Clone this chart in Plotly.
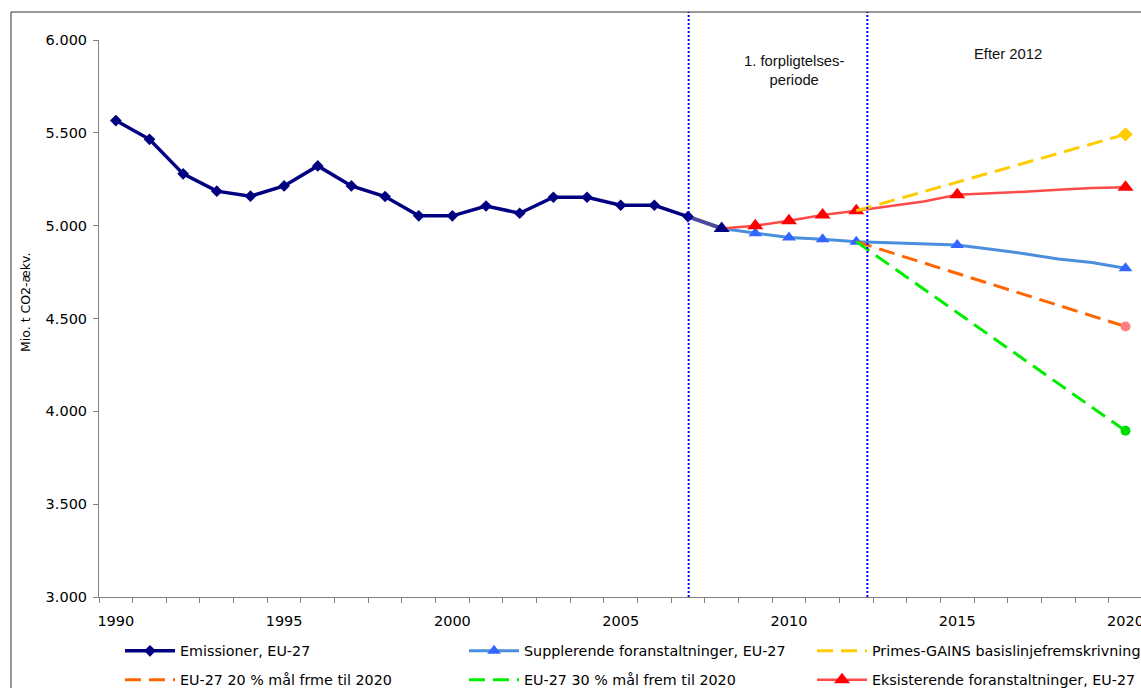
import plotly.graph_objects as go

# ---------------- data ----------------
emis_years = list(range(1990, 2008))
emis_vals = [5566, 5465, 5279, 5186, 5159, 5214, 5322, 5214, 5157, 5053,
             5053, 5106, 5067, 5153, 5153, 5110, 5110, 5049]

link_years = [2007, 2008]
link_vals = [5049, 4985]

proj_years = list(range(2008, 2021))
supp_vals = [4985, 4959, 4936, 4927, 4914, 4908, 4902, 4896, 4873, 4849, 4820, 4802, 4771]
eksi_vals = [4985, 5000, 5027, 5058, 5080, 5105, 5130, 5166, 5173, 5183, 5193, 5203, 5207]
marker_years = [2009, 2010, 2011, 2012, 2015, 2020]

target_years = [2012, 2020]
primes_vals = [5080, 5492]
eu20_vals = [4914, 4457]
eu30_vals = [4914, 3895]

period_lines = [2007.02, 2012.33]

y_ticks = [3000, 3500, 4000, 4500, 5000, 5500, 6000]
x_ticks = [1990, 1995, 2000, 2005, 2010, 2015, 2020]
all_years = list(range(1990, 2021))

names = {
    "emis": "Emissioner, EU-27",
    "supp": "Supplerende foranstaltninger, EU-27",
    "primes": "Primes-GAINS basislinjefremskrivning",
    "eu20": "EU-27 20 % mål frme til 2020",
    "eu30": "EU-27 30 % mål frem til 2020",
    "eksi": "Eksisterende foranstaltninger, EU-27",
}

# ---------------- layout helpers ----------------
W, H = 1141, 688
ML, MR, MT, MB = 99, 0, 40, 91
PW, PH = W - ML - MR, H - MT - MB


def px_x(px):
    return (px - ML) / PW


def px_y(py):
    return 1 - (py - MT) / PH


FONT = "DejaVu Sans"
ARIAL = "Liberation Sans, Arial"
DASH = "16px,8px"

sel_idx = [proj_years.index(y) for y in marker_years]

fig = go.Figure()

fig.add_trace(go.Scatter(
    x=proj_years, y=supp_vals, name=names["supp"], mode="lines+markers",
    line=dict(color="#4a8fdc", width=3),
    marker=dict(symbol="triangle-up", size=12, color="#3366ff"),
    selectedpoints=sel_idx,
    selected=dict(marker=dict(opacity=1)),
    unselected=dict(marker=dict(opacity=0)),
    legend="legend2",
))
fig.add_trace(go.Scatter(
    x=proj_years, y=eksi_vals, name=names["eksi"], mode="lines+markers",
    line=dict(color="#ff4a4a", width=2.5),
    marker=dict(symbol="triangle-up", size=14, color="#ff0000"),
    selectedpoints=sel_idx,
    selected=dict(marker=dict(opacity=1)),
    unselected=dict(marker=dict(opacity=0)),
    legend="legend6",
))

dashed = [
    ("primes", primes_vals, "#ffcc00", "diamond", "#ffcc00", 11, "legend3"),
    ("eu20", eu20_vals, "#ff6600", "circle", "#ff8080", 10, "legend4"),
    ("eu30", eu30_vals, "#00ee00", "circle", "#00dd00", 10, "legend5"),
]
for key, vals, lc, sym, mc, ms, lg in dashed:
    fig.add_trace(go.Scatter(
        x=target_years, y=vals, name=names[key], mode="lines",
        line=dict(color=lc, width=3, dash=DASH), legend=lg,
    ))
    fig.add_trace(go.Scatter(
        x=target_years[-1:], y=vals[-1:], mode="markers", showlegend=False,
        marker=dict(symbol=sym, size=ms, color=mc),
    ))

fig.add_trace(go.Scatter(
    x=link_years, y=link_vals, mode="lines", showlegend=False,
    line=dict(color="#4b4b9b", width=4),
))
fig.add_trace(go.Scatter(
    x=link_years[-1:], y=link_vals[-1:], mode="markers", showlegend=False,
    marker=dict(symbol="triangle-up", size=14, color="#000080"),
))
fig.add_trace(go.Scatter(
    x=emis_years, y=emis_vals, name=names["emis"], mode="lines+markers",
    line=dict(color="#000080", width=3.5),
    marker=dict(symbol="diamond", size=9, color="#000080"),
    legend="legend",
))

# vertical dotted period lines
for xv in period_lines:
    fig.add_shape(type="line", xref="x", yref="paper", x0=xv, x1=xv,
                  y0=0, y1=px_y(12), line=dict(color="#0000ff", width=2, dash="2px,2px"),
                  layer="above")

# chart border (left and top)
fig.add_shape(type="line", xref="paper", yref="paper", x0=px_x(11), x1=px_x(11),
              y0=px_y(12), y1=px_y(700), line=dict(color="#333333", width=1))
fig.add_shape(type="line", xref="paper", yref="paper", x0=px_x(11), x1=px_x(1150),
              y0=px_y(12), y1=px_y(12), line=dict(color="#333333", width=1))

# annotations
fig.add_annotation(text="1. forpligtelses-<br>periode", xref="paper", yref="paper",
                   x=px_x(794), y=px_y(71), showarrow=False, xanchor="center", yanchor="middle",
                   font=dict(family=ARIAL, size=14.8, color="#111111"))
fig.add_annotation(text="Efter 2012", xref="paper", yref="paper",
                   x=px_x(1008), y=px_y(54), showarrow=False, xanchor="center", yanchor="middle",
                   font=dict(family=ARIAL, size=14.8, color="#111111"))
fig.add_annotation(text="Mio. t CO2-ækv.", xref="paper", yref="paper",
                   x=px_x(25), y=px_y(303), showarrow=False, textangle=-90,
                   xanchor="center", yanchor="middle",
                   font=dict(family=FONT, size=12.5, color="#000000"))

boundaries = [y - 0.5 for y in all_years] + [all_years[-1] + 0.5]


def leg(px, py):
    return dict(orientation="v", x=px_x(px), xanchor="left", y=px_y(py), yanchor="middle",
                font=dict(family=FONT, size=14.3, color="#000000"), itemwidth=50,
                bgcolor="rgba(0,0,0,0)", borderwidth=0)


fig.update_layout(
    width=W, height=H,
    margin=dict(l=ML, r=MR, t=MT, b=MB, autoexpand=False),
    paper_bgcolor="white", plot_bgcolor="white",
    separators=",.",
    showlegend=True,
    xaxis=dict(
        range=[1989.5, 2020.46], showgrid=False, zeroline=False,
        showline=True, linecolor="#808080", linewidth=1,
        tickmode="array", tickvals=x_ticks, ticktext=[str(v) for v in x_ticks],
        ticks="", tickfont=dict(family=FONT, size=14.5, color="#000000"),
        minor=dict(tickmode="array", tickvals=boundaries, ticks="outside",
                   ticklen=5, tickcolor="#808080", showgrid=False),
        ticklabelstandoff=11, ticklabeloverflow="allow",
    ),
    yaxis=dict(
        range=[3000, 6000], showgrid=False, zeroline=False,
        showline=True, linecolor="#808080", linewidth=1,
        tickmode="array", tickvals=y_ticks, tickformat=",d",
        ticks="outside", ticklen=5, tickcolor="#808080",
        tickfont=dict(family=FONT, size=14.5, color="#000000"),
        ticklabelstandoff=3,
    ),
    legend=leg(120, 651),
    legend2=leg(464, 651),
    legend3=leg(812, 651),
    legend4=leg(120, 680),
    legend5=leg(464, 680),
    legend6=leg(812, 680),
)

fig.write_html("out.html", config={"displayModeBar": False},
               post_script="document.body.style.margin='0';document.body.style.overflow='hidden';")
